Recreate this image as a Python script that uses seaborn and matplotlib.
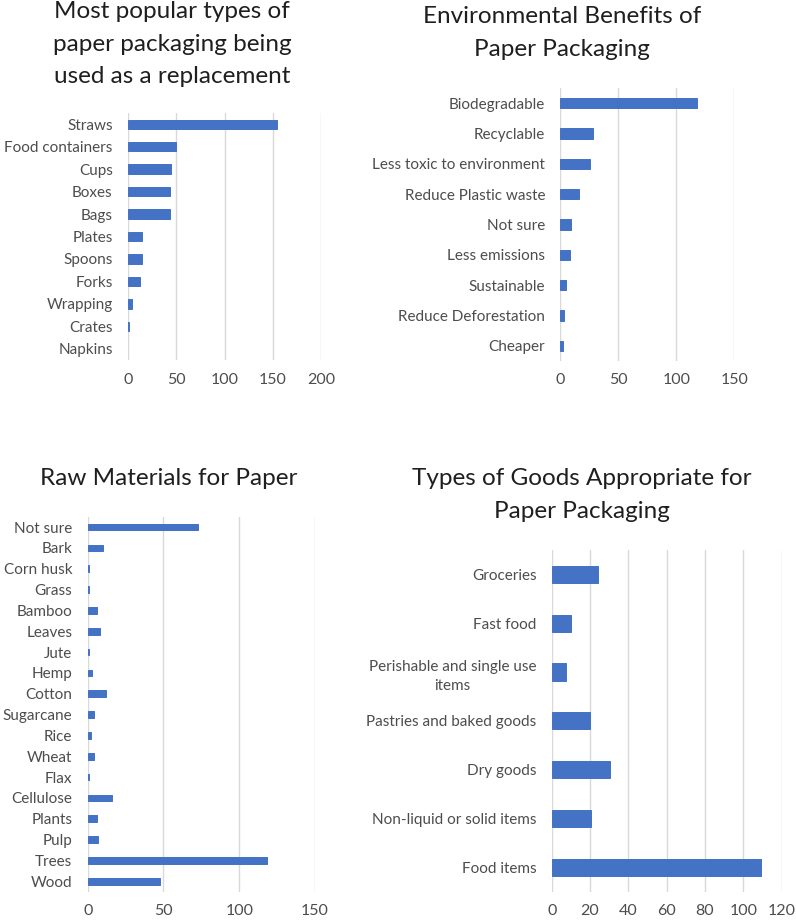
import matplotlib
matplotlib.use("Agg")
import matplotlib.pyplot as plt
import numpy as np
import pandas as pd
import seaborn as sns

# chart 1
types_cats = ["Straws", "Food containers", "Cups", "Boxes", "Bags", "Plates",
              "Spoons", "Forks", "Wrapping", "Crates", "Napkins"]
types_vals = [154, 50, 45, 43, 43, 15, 15, 12, 4, 1, 0]

# chart 2
benefit_cats = ["Biodegradable", "Recyclable", "Less toxic to environment",
                "Reduce Plastic waste", "Not sure", "Less emissions",
                "Sustainable", "Reduce Deforestation", "Cheaper"]
benefit_vals = [118, 28, 26, 16, 9, 8, 5, 3, 2]

# chart 3
raw_cats = ["Not sure", "Bark", "Corn husk", "Grass", "Bamboo", "Leaves", "Jute",
            "Hemp", "Cotton", "Sugarcane", "Rice", "Wheat", "Flax", "Cellulose",
            "Plants", "Pulp", "Trees", "Wood"]
raw_vals = [73, 10, 1, 1, 6, 8, 1, 3, 12, 4, 2, 4, 1, 16, 6, 7, 118, 48]

# chart 4
goods_cats = ["Groceries", "Fast food", "Perishable and single use\nitems",
              "Pastries and baked goods", "Dry goods", "Non-liquid or solid items",
              "Food items"]
goods_vals = [24, 10, 7.5, 20, 30.5, 20.5, 109]

sns.set_theme(style="white")
plt.rcParams["font.family"] = ["Lato", "DejaVu Sans"]

W, H = 796, 922
BAR = "#4472C4"
GRID = "#d9d9d9"
TICK = "#4d4d4d"
TITLE = "#1f1f1f"

fig = plt.figure(figsize=(W / 100, H / 100), dpi=100)
fig.patch.set_facecolor("white")


def panel(box, cats, vals, xmax, step, width, title, tpos):
    x0, y0, x1, y1 = box
    ax = fig.add_axes([x0 / W, 1 - y1 / H, (x1 - x0) / W, (y1 - y0) / H])
    df = pd.DataFrame({"cat": cats, "val": vals})
    sns.barplot(data=df, x="val", y="cat", order=cats, color=BAR,
                width=width, saturation=1, edgecolor=BAR, linewidth=0.7,
                ax=ax, zorder=3)
    # zero-valued bars should not show an edge
    for p in ax.patches:
        if p.get_width() == 0:
            p.set_linewidth(0)
    ax.set_xlim(0, xmax)
    ax.set_ylim(len(cats) - 0.5, -0.5)
    ax.set_xticks(np.arange(0, xmax + 1, step))
    ax.grid(axis="x", color=GRID, linewidth=1, zorder=0)
    ax.grid(axis="y", visible=False)
    for s in ax.spines.values():
        s.set_visible(False)
    ax.set_xlabel("")
    ax.set_ylabel("")
    ax.tick_params(axis="y", length=0, pad=11, labelsize=11, labelcolor=TICK)
    ax.tick_params(axis="x", length=0, pad=9, labelsize=11.5, labelcolor=TICK)
    for lab in ax.get_yticklabels():
        lab.set_multialignment("center")
        lab.set_linespacing(1.5)
    tx, ty = tpos
    fig.text(tx / W, 1 - ty / H, title, ha="center", va="top",
             fontsize=17.5, color=TITLE, linespacing=1.68)
    return ax


panel((128, 113, 321.3, 360), types_cats, types_vals, 200, 50, 0.42,
      "Most popular types of\npaper packaging being\nused as a replacement", (172, 1))
panel((560.3, 88, 734.3, 361), benefit_cats, benefit_vals, 150, 50, 0.35,
      "Environmental Benefits of\nPaper Packaging", (562, 6))
panel((87.7, 516.7, 315, 891.7), raw_cats, raw_vals, 150, 50, 0.32,
      "Raw Materials for Paper", (169, 468))
panel((551.7, 550, 781.7, 891.7), goods_cats, goods_vals, 120, 20, 0.35,
      "Types of Goods Appropriate for\nPaper Packaging", (582, 468))

fig.savefig("out.png", dpi=100, facecolor="white")
